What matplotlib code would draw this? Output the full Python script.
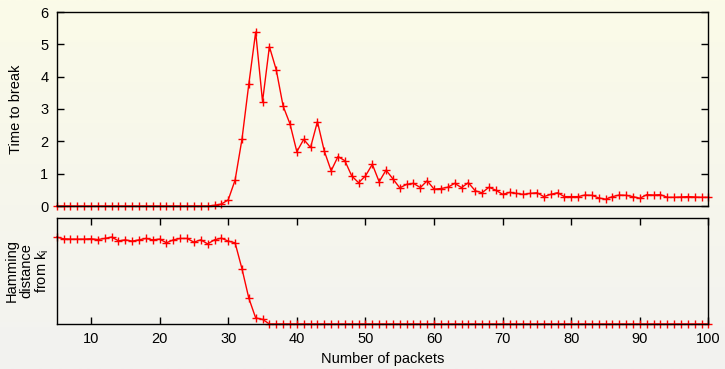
import numpy as np
import matplotlib
matplotlib.use("Agg")
import matplotlib.pyplot as plt

plt.rcParams['font.family'] = ['Liberation Sans', 'DejaVu Sans']

packets = list(range(5, 101))

time_to_break = [
    0, 0, 0, 0, 0, 0, 0, 0, 0, 0,            # 5-14
    0, 0, 0, 0, 0, 0, 0, 0, 0, 0,            # 15-24
    0, 0, 0, 0.02, 0.06, 0.19, 0.80, 2.06, 3.77, 5.38,   # 25-34
    3.23, 4.93, 4.21, 3.09, 2.54, 1.68, 2.06, 1.81, 2.61, 1.70,  # 35-44
    1.09, 1.53, 1.40, 0.93, 0.72, 0.93, 1.29, 0.75, 1.11, 0.84,  # 45-54
    0.56, 0.67, 0.70, 0.57, 0.78, 0.52, 0.54, 0.58, 0.70, 0.57,  # 55-64
    0.72, 0.47, 0.41, 0.58, 0.49, 0.36, 0.42, 0.39, 0.36, 0.39,  # 65-74
    0.41, 0.29, 0.36, 0.41, 0.29, 0.29, 0.29, 0.34, 0.33, 0.25,  # 75-84
    0.21, 0.29, 0.34, 0.33, 0.29, 0.24, 0.35, 0.34, 0.35, 0.27,  # 85-94
    0.27, 0.28, 0.29, 0.28, 0.27, 0.27,                          # 95-100
]

hamming = [
    0.820, 0.804, 0.801, 0.801, 0.801, 0.804, 0.797, 0.807, 0.820, 0.785,  # 5-14
    0.794, 0.782, 0.794, 0.807, 0.794, 0.801, 0.766, 0.794, 0.807, 0.807,  # 15-24
    0.772, 0.794, 0.756, 0.794, 0.810, 0.782, 0.766, 0.522, 0.244, 0.057,  # 25-34
    0.044,                                                                  # 35
] + [0.0] * 65                                                              # 36-100

x_ticks = [10, 20, 30, 40, 50, 60, 70, 80, 90, 100]
y_ticks_top = [0, 1, 2, 3, 4, 5, 6]

W, H = 725, 369
fig = plt.figure(figsize=(W / 100, H / 100), dpi=100)

# gradient background
bg = fig.add_axes([0, 0, 1, 1], zorder=-10)
top_col = np.array([251, 251, 232]) / 255.0
bot_col = np.array([242, 242, 240]) / 255.0
t = np.linspace(0, 1, 256)[:, None]
grad = top_col[None, :] * (1 - t) + bot_col[None, :] * t
bg.imshow(grad[:, None, :], aspect='auto', extent=[0, 1, 0, 1])
bg.axis('off')

left = 56.7 / W
width = (708.5 - 56.7) / W
ax1 = fig.add_axes([left, 1 - 206 / H, width, (206 - 12) / H])
ax2 = fig.add_axes([left, 1 - 324 / H, width, (324 - 218) / H])

red = '#ff0000'
fs = 10.5
for ax in (ax1, ax2):
    ax.patch.set_alpha(0)
    for s in ax.spines.values():
        s.set_linewidth(1.0)
        s.set_color('black')

ax1.plot(packets, time_to_break, color=red, lw=1.0, marker='+', ms=6, mew=1.0, clip_on=False)
ax1.set_xlim(5, 100)
ax1.set_ylim(0, 6)
ax1.set_yticks(y_ticks_top)
ax1.set_xticks([])
ax1.tick_params(axis='y', direction='in', length=5, width=1, left=True, right=True,
                labelsize=fs, pad=6)

ax2.plot(packets, hamming, color=red, lw=1.0, marker='+', ms=6, mew=1.0, clip_on=False)
ax2.set_xlim(5, 100)
ax2.set_ylim(0, 1)
ax2.set_yticks([])
ax2.set_xticks(x_ticks)
ax2.tick_params(axis='x', direction='in', length=5, width=1, top=True, bottom=True,
                labelsize=fs, pad=6)
ax2.set_xlabel('Number of packets', fontsize=fs, labelpad=4)

fig.text(16 / W, 1 - 109 / H, 'Time to break', rotation=90, fontsize=fs,
         ha='center', va='center')
fig.text(28 / W, 1 - 271 / H, 'Hamming\ndistance\nfrom k$_\\mathregular{i}$',
         rotation=90, fontsize=fs, ha='center', va='center',
         multialignment='center', linespacing=1.05)

fig.savefig('out.png', dpi=100)
